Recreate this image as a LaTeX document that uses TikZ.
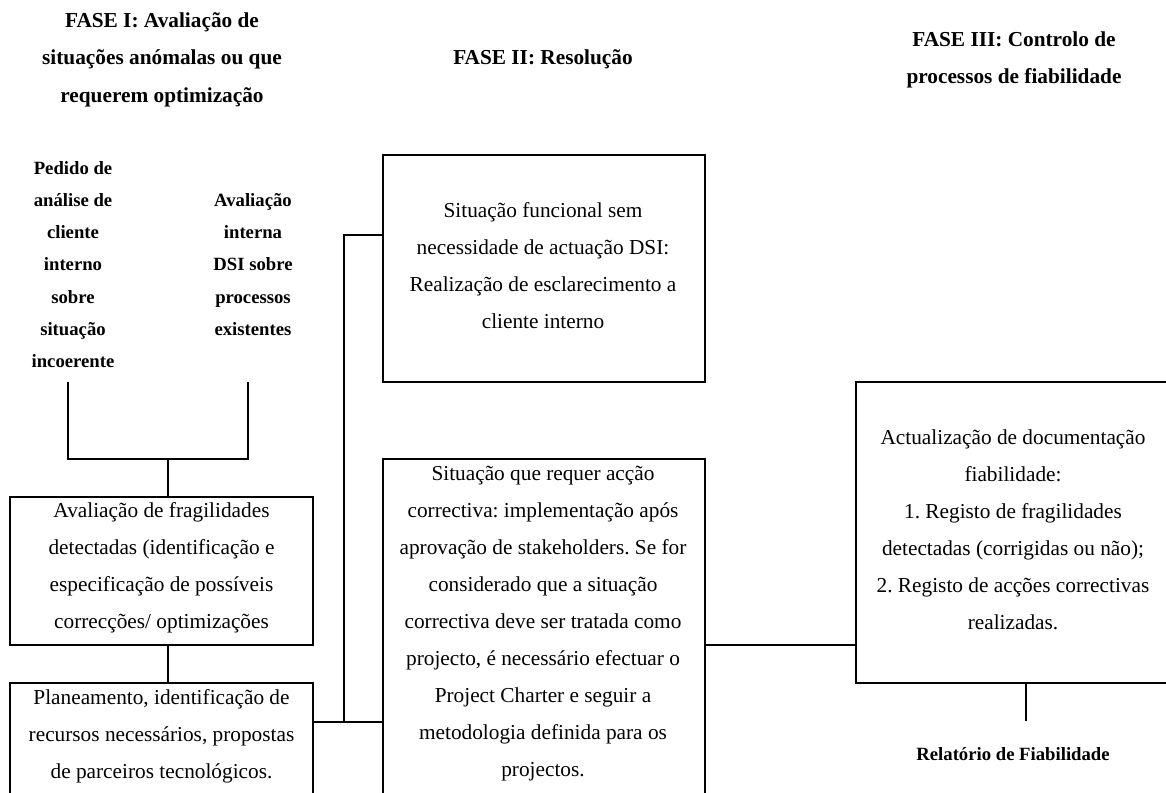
\documentclass[tikz,border=0pt]{standalone}
\usepackage{fontspec}
\setmainfont{Liberation Serif}
\frenchspacing
\begin{document}
\begin{tikzpicture}[x=1pt,y=-1pt,
  box/.style={draw=black,line width=2pt,inner sep=0pt,rectangle},
  wire/.style={draw=black,line width=2pt},
  body/.style={align=center,inner sep=0pt,font=\fontsize{21.3}{37}\selectfont},
  head/.style={align=center,inner sep=0pt,font=\fontsize{21.3}{37.5}\selectfont\bfseries},
  small/.style={align=center,inner sep=0pt,font=\fontsize{18.7}{32.2}\selectfont\bfseries}]
\useasboundingbox (0,0) rectangle (1166,792);
\clip (0,0) rectangle (1166,792);

% phase headings
\node[head] (h1) at (162,59.5) {FASE I: Avaliação de\\situações anómalas ou que\\requerem optimização};
\node[head] (h2) at (543,59) {FASE II: Resolução};
\node[head] (h3) at (1014,60) {FASE III: Controlo de\\processos de fiabilidade};

% entry points of phase I
\node[small] (ped) at (73,264.5) {Pedido de\\análise de\\cliente\\interno\\sobre\\situação\\incoerente};
\node[small] (aval) at (253,264.5) {Avaliação\\interna\\DSI sobre\\processos\\existentes};

% boxes
\node[box,minimum width=303,minimum height=148] (frag) at (161.5,571) {};
\node[body] (fragt) at (161.5,567.5) {Avaliação de fragilidades\\detectadas (identificação e\\especificação de possíveis\\correcções/ optimizações};

\node[box,minimum width=303,minimum height=137] (plan) at (161.5,751.5) {};
\node[body] (plant) at (161.5,736.5) {Planeamento, identificação de\\recursos necessários, propostas\\de parceiros tecnológicos.};

\node[box,minimum width=322,minimum height=227] (b1) at (544,268.5) {};
\node[body] (b1t) at (543,265.5) {Situação funcional sem\\necessidade de actuação DSI:\\Realização de esclarecimento a\\cliente interno};

\node[box,minimum width=322,minimum height=361] (b2) at (544,639.5) {};
\node[body] (b2t) at (543,623.5) {Situação que requer acção\\correctiva: implementação após\\aprovação de stakeholders. Se for\\considerado que a situação\\correctiva deve ser tratada como\\projecto, é necessário efectuar o\\Project Charter e seguir a\\metodologia definida para os\\projectos.};

\node[box,minimum width=314,minimum height=301] (b3) at (1013,532.5) {};
\node[body] (b3t) at (1013,530) {Actualização de documentação\\fiabilidade:\\1. Registo de fragilidades\\detectadas (corrigidas ou não);\\2. Registo de acções correctivas\\realizadas.};

\node[small] (rel) at (1013,754) {Relatório de Fiabilidade};

% junction points
\coordinate (pl) at (68,382);
\coordinate (al) at (248,382);
\coordinate (j1) at (168,459);
\coordinate (bus) at (344,722);
\coordinate (k) at (344,235);
\coordinate (m) at (705,645);
\coordinate (rf) at (1026,721);

% connectors
\draw[wire] (pl) -- (pl |- j1) -- (al |- j1) -- (al);
\draw[wire] (j1) -- (j1 |- frag.north);
\draw[wire] (frag.south -| j1) -- (plan.north -| j1);
\draw[wire] (plan.east |- bus) -- (b2.west |- bus);
\draw[wire] (bus) -- (k) -- (k -| b1.west);
\draw[wire] (b2.east |- m) -- (b3.west |- m);
\draw[wire] (rf |- b3.south) -- (rf);
\end{tikzpicture}
\end{document}
